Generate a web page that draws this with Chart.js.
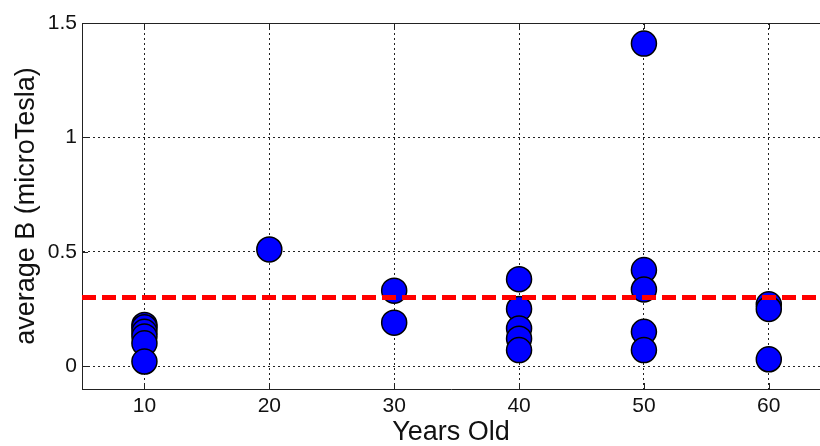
<!DOCTYPE html>
<html>
<head>
<meta charset="utf-8">
<script src="https://cdn.jsdelivr.net/npm/chart.js@4/dist/chart.umd.min.js"></script>
<style>
  body { margin: 0; background: #fff; }
</style>
</head>
<body>
<canvas id="grafico" width="820" height="446"></canvas>
<script>
// idade de cada medida e o valor medio de B
const idades = [10, 10, 10, 10, 10, 10, 20, 30, 30, 40, 40, 40, 40, 40, 50, 50, 50, 50, 50, 60, 60, 60]
const valoresB = [0.18, 0.17, 0.15, 0.13, 0.10, 0.02, 0.51, 0.33, 0.19, 0.38, 0.25, 0.165, 0.12, 0.07, 1.41, 0.42, 0.335, 0.15, 0.07, 0.27, 0.25, 0.03]
const ticksX = [10, 20, 30, 40, 50, 60]
const ticksY = [0, 0.5, 1, 1.5]
const limite = 0.3
const xMin = 5, xMax = 64.1
const yMin = -0.1, yMax = 1.5

const fonte = "'Liberation Sans', Arial, sans-serif"
const pontos = idades.map((idade, i) => ({ x: idade, y: valoresB[i] }))

// moldura de cima e os tracinhos internos dos eixos
const moldura = {
  id: 'moldura',
  afterDraw(chart) {
    const { ctx, chartArea: a, scales: { x, y } } = chart
    ctx.save()
    ctx.strokeStyle = '#222'
    ctx.lineWidth = 1
    ctx.beginPath()
    ctx.moveTo(a.left, a.top + 0.5)
    ctx.lineTo(a.right, a.top + 0.5)
    ticksX.forEach(v => {
      const px = Math.round(x.getPixelForValue(v)) + 0.5
      ctx.moveTo(px, a.bottom); ctx.lineTo(px, a.bottom - 6)
      ctx.moveTo(px, a.top); ctx.lineTo(px, a.top + 6)
    })
    ticksY.forEach(v => {
      const py = Math.round(y.getPixelForValue(v)) + 0.5
      ctx.moveTo(a.left, py); ctx.lineTo(a.left + 6, py)
    })
    ctx.stroke()
    ctx.restore()
  }
}

new Chart(document.getElementById('grafico'), {
  type: 'scatter',
  data: {
    datasets: [{
      type: 'line',
      data: [{ x: xMin, y: limite }, { x: xMax, y: limite }],
      borderColor: '#ff0000',
      borderWidth: 5,
      borderDash: [14, 6],
      pointRadius: 0
    }, {
      data: pontos,
      backgroundColor: '#0000ff',
      borderColor: '#000',
      borderWidth: 1.5,
      pointRadius: 12.5,
      pointHoverRadius: 12.5
    }]
  },
  options: {
    responsive: false,
    devicePixelRatio: 1,
    animation: false,
    layout: { autoPadding: false, padding: { top: 23, right: 0, left: 0, bottom: 0 } },
    plugins: { legend: { display: false }, tooltip: { enabled: false } },
    scales: {
      x: {
        type: 'linear',
        min: xMin,
        max: xMax,
        afterBuildTicks: eixo => { eixo.ticks = ticksX.map(v => ({ value: v })) },
        afterFit: eixo => {
          eixo.height = 57
          eixo.paddingLeft = 0
          eixo.paddingRight = 0
        },
        grid: { color: '#222', lineWidth: 1, drawTicks: false },
        border: { color: '#222', width: 1, dash: [2, 3] },
        ticks: { color: '#111', padding: 5, font: { family: fonte, size: 21 }, maxRotation: 0 },
        title: {
          display: true,
          text: 'Years Old',
          color: '#111',
          font: { family: fonte, size: 27, lineHeight: 1 },
          padding: 0
        }
      },
      y: {
        min: yMin,
        max: yMax,
        afterBuildTicks: eixo => { eixo.ticks = ticksY.map(v => ({ value: v })) },
        afterFit: eixo => { eixo.width = 82 },
        grid: { color: '#222', lineWidth: 1, drawTicks: false },
        border: { color: '#222', width: 1, dash: [2, 3] },
        ticks: { color: '#111', padding: 5, font: { family: fonte, size: 21 }, callback: v => String(v) },
        title: {
          display: true,
          text: 'average B (microTesla)',
          color: '#111',
          font: { family: fonte, size: 27, lineHeight: 1 },
          padding: { top: 13, bottom: 0 }
        }
      }
    }
  },
  plugins: [moldura]
})
</script>
</body>
</html>
